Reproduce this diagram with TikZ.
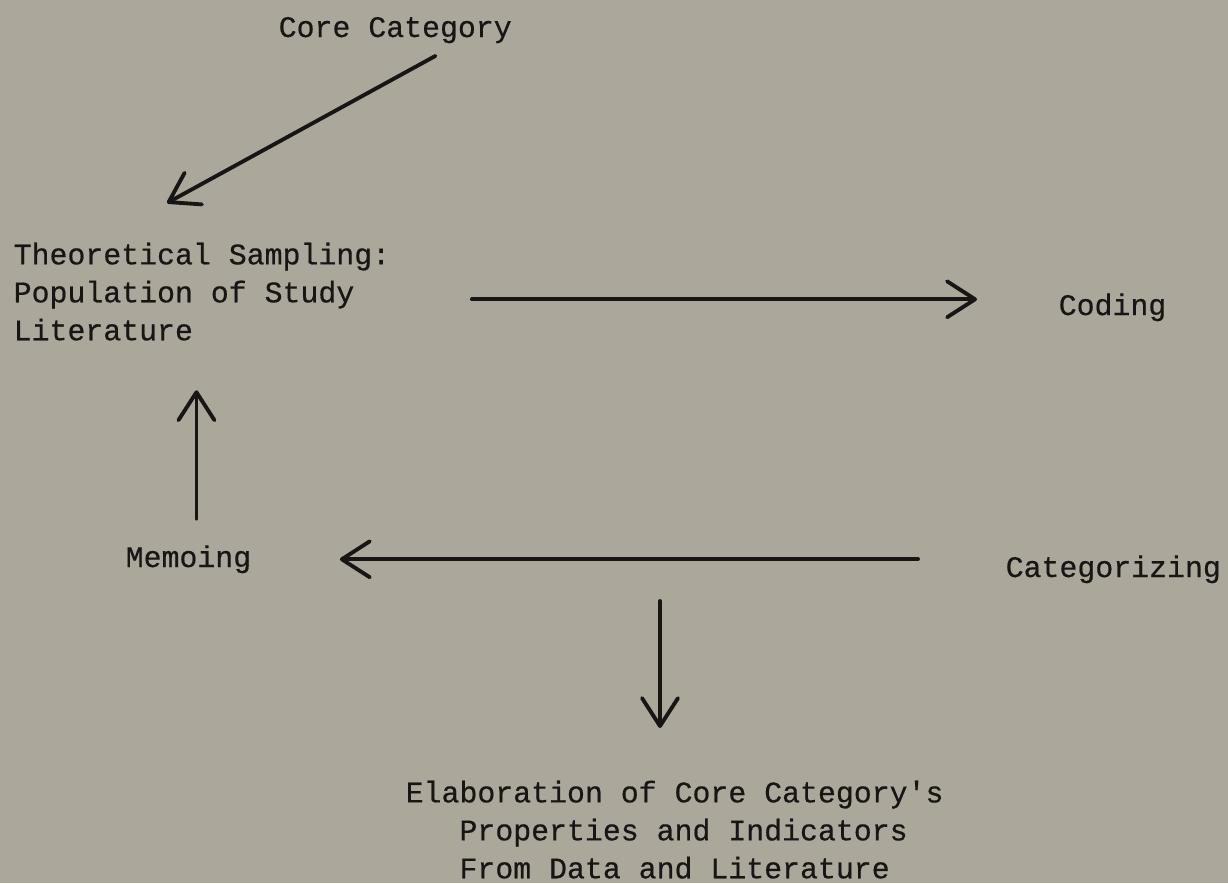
\documentclass[tikz,border=0pt]{standalone}
\usepackage{fontspec}
\setmonofont{Liberation Mono}[FakeBold=0.5]
\usetikzlibrary{arrows.meta, positioning, calc}
\definecolor{paper}{RGB}{171,167,155}
\definecolor{ink}{RGB}{24,22,20}

\begin{document}
\begin{tikzpicture}[font=\ttfamily\fontsize{8.5}{10.8}\selectfont,
  t/.style={inner sep=0pt, text=ink, align=left},
  a/.style={-{Straight Barb[length=2.8mm, width=3.6mm, round]}, line width=1.1pt,
            draw=ink, line cap=round}]
  \fill[paper] (0,0) rectangle (12.28,-8.83);
  \node[t, anchor=base west]  (core) at (2.78,-0.37)  {Core Category};
  \node[t, anchor=north west] (theo) at (0.13,-2.42)  {Theoretical Sampling:\\Population of Study\\Literature};
  \node[t, anchor=base west]  (cod)  at (10.58,-3.15) {Coding};
  \node[t, anchor=base west]  (memo) at (1.25,-5.67)  {Memoing};
  \node[t, anchor=base west]  (cat)  at (10.05,-5.77) {Categorizing};
  \node[t, anchor=north west] (elab) at (4.05,-7.80)  {Elaboration of Core Category's\\
    \phantom{xxx}Properties and Indicators\\\phantom{xxx}From Data and Literature};
  \coordinate (split) at (6.60,-6.01);
  \draw[a] ([xshift=-7.7mm, yshift=-1.2mm]core.south east) -- ([xshift=15.4mm, yshift=3.9mm]theo.north west);
  \draw[a] ([xshift=8.1mm, yshift=0.8mm]theo.east |- cod.west) -- ([xshift=-8.1mm, yshift=0.8mm]cod.west);
  \draw[a] ([xshift=0.8mm, yshift=2.6mm]memo.north) -- ([xshift=0.8mm, yshift=-4.9mm]memo.north |- theo.south);
  \draw[a] ([xshift=-8.7mm]cat.west |- memo.east) -- ([xshift=8.8mm]memo.east);
  \draw[a] (split) -- ([yshift=5.2mm]split |- elab.north);
\end{tikzpicture}
\end{document}
